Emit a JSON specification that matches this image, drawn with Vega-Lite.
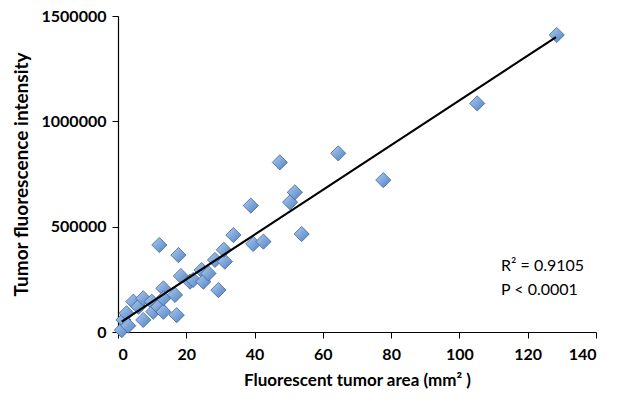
{
  "$schema": "https://vega.github.io/schema/vega-lite/v6.json",
  "autosize": "none",
  "width": 478,
  "height": 316,
  "padding": {"left": 118, "top": 16, "right": 23, "bottom": 71},
  "background": "white",
  "config": {
    "view": {"stroke": null},
    "font": "Lato",
    "axis": {
      "grid": false,
      "domainColor": "black",
      "domainWidth": 1.2,
      "tickColor": "black",
      "tickSize": 6,
      "labelFont": "Lato",
      "labelFontWeight": "bold",
      "labelFontSize": 16,
      "labelColor": "black",
      "titleFont": "Lato",
      "titleFontWeight": "bold",
      "titleColor": "black"
    }
  },
  "datasets": {
    "pts": [
      {"area": 1.1, "intensity": 9000},
      {"area": 1.6, "intensity": 57000},
      {"area": 2.5, "intensity": 89000},
      {"area": 3.0, "intensity": 30000},
      {"area": 4.5, "intensity": 144000},
      {"area": 6.0, "intensity": 120000},
      {"area": 7.4, "intensity": 160000},
      {"area": 7.4, "intensity": 57000},
      {"area": 9.9, "intensity": 144000},
      {"area": 10.3, "intensity": 96000},
      {"area": 11.8, "intensity": 120000},
      {"area": 12.1, "intensity": 413000},
      {"area": 13.3, "intensity": 207000},
      {"area": 13.3, "intensity": 96000},
      {"area": 13.3, "intensity": 160000},
      {"area": 16.7, "intensity": 176000},
      {"area": 17.2, "intensity": 80000},
      {"area": 17.7, "intensity": 365000},
      {"area": 18.4, "intensity": 266000},
      {"area": 21.1, "intensity": 239000},
      {"area": 22.0, "intensity": 247000},
      {"area": 24.5, "intensity": 294000},
      {"area": 25.0, "intensity": 239000},
      {"area": 26.5, "intensity": 278000},
      {"area": 28.4, "intensity": 342000},
      {"area": 29.4, "intensity": 199000},
      {"area": 31.3, "intensity": 334000},
      {"area": 31.0, "intensity": 390000},
      {"area": 33.8, "intensity": 460000},
      {"area": 38.9, "intensity": 600000},
      {"area": 39.6, "intensity": 418000},
      {"area": 42.6, "intensity": 429000},
      {"area": 47.4, "intensity": 805000},
      {"area": 50.4, "intensity": 616000},
      {"area": 51.8, "intensity": 663000},
      {"area": 53.8, "intensity": 465000},
      {"area": 64.5, "intensity": 848000},
      {"area": 77.7, "intensity": 721000},
      {"area": 105.2, "intensity": 1085000},
      {"area": 128.5, "intensity": 1410000}
    ],
    "fit": [
      {"area": 1.1, "intensity": 49000},
      {"area": 128.3, "intensity": 1400000}
    ],
    "notes": [
      {"area": 112.2, "intensity": 313000, "label": "R² = 0.9105"},
      {"area": 112.2, "intensity": 199000, "label": "P < 0.0001"}
    ]
  },
  "encoding": {
    "x": {
      "field": "area", "type": "quantitative",
      "scale": {"domain": [0, 140], "nice": false, "zero": true},
      "axis": {"values": [0, 20, 40, 60, 80, 100, 120, 140], "title": "Fluorescent tumor area (mm² )", "titleFontSize": 17, "titlePadding": 10, "labelPadding": 8}
    },
    "y": {
      "field": "intensity", "type": "quantitative",
      "scale": {"domain": [0, 1500000], "nice": false},
      "axis": {"values": [0, 500000, 1000000, 1500000], "format": "d", "title": "Tumor fluorescence intensity", "titleFontSize": 19, "titlePadding": 10, "labelPadding": 6}
    }
  },
  "layer": [
    {
      "data": {"name": "pts"},
      "mark": {
        "type": "point", "shape": "diamond", "size": 230, "filled": true, "opacity": 1,
        "fill": {
          "gradient": "linear", "x1": 0, "y1": 0, "x2": 1, "y2": 1,
          "stops": [{"offset": 0, "color": "#b3cdee"}, {"offset": 0.5, "color": "#7ea6da"}, {"offset": 1, "color": "#4f7fc0"}]
        },
        "stroke": "#3e6699", "strokeWidth": 0.8
      }
    },
    {
      "data": {"name": "fit"},
      "mark": {"type": "line", "color": "black", "strokeWidth": 2.2},
      "encoding": {}
    },
    {
      "data": {"name": "notes"},
      "mark": {"type": "text", "align": "left", "baseline": "middle", "fontSize": 16, "font": "Lato", "color": "black"},
      "encoding": {"text": {"field": "label"}}
    }
  ]
}
